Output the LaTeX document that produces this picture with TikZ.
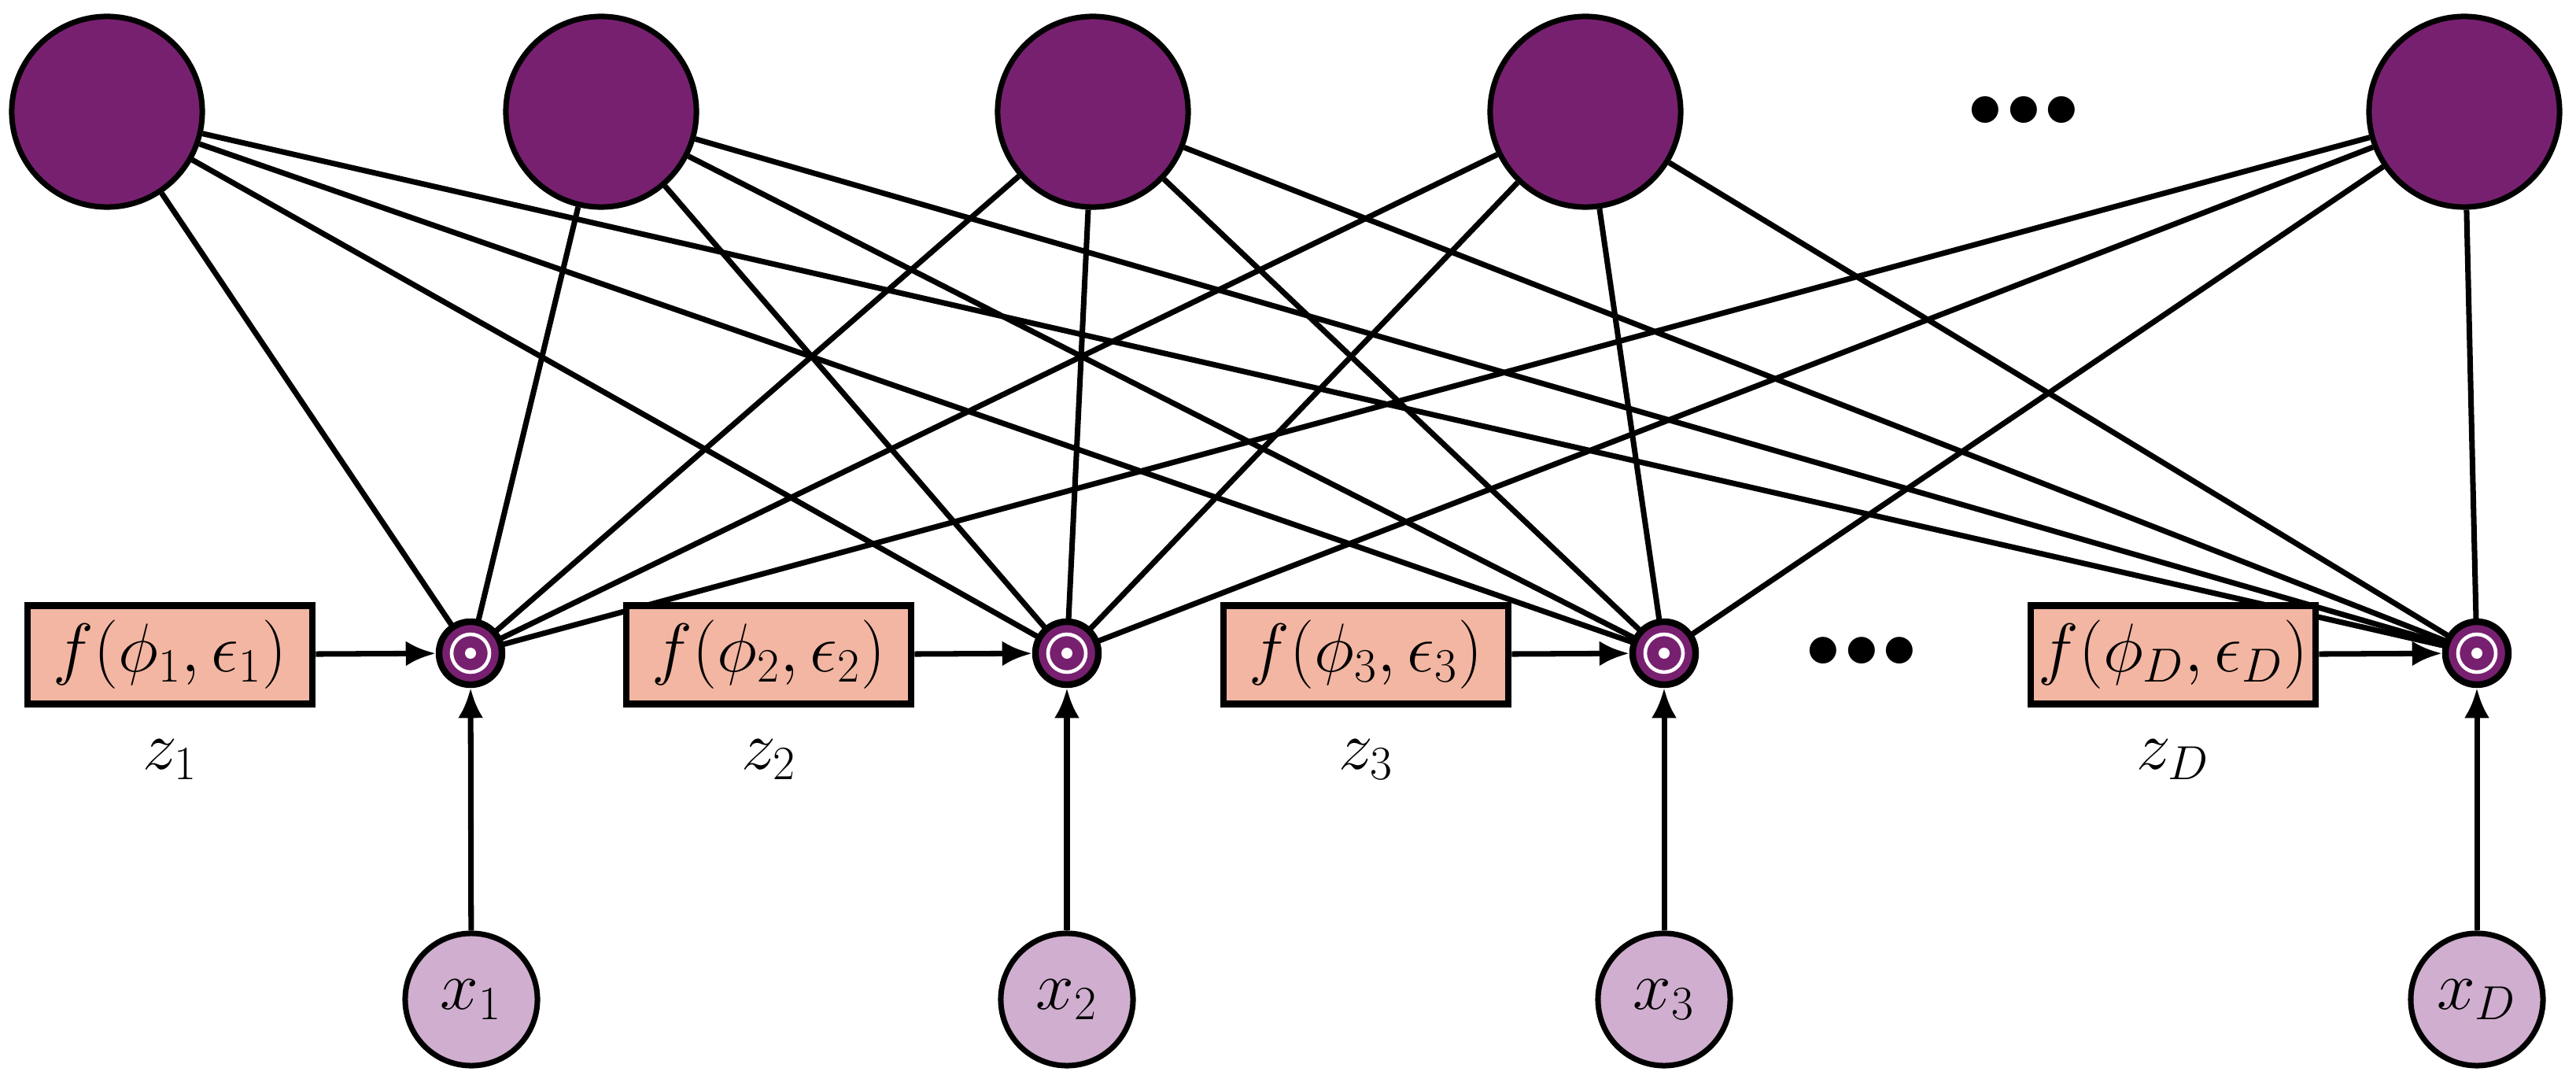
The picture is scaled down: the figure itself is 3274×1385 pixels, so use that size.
\documentclass[tikz,border=0pt]{standalone}
\usetikzlibrary{arrows.meta}
\definecolor{hid}{HTML}{782070}
\definecolor{inp}{HTML}{D0AECF}
\definecolor{fbox}{HTML}{F2B6A2}
\begin{document}
\begin{tikzpicture}[x=0.01cm,y=-0.01cm,line width=2pt,
  font=\fontsize{25}{29}\selectfont,
  top/.style={circle,draw,fill=hid,minimum size=2.42cm},
  mix/.style={circle,draw,fill=hid,minimum size=0.8cm,inner sep=0,line width=2.4pt},
  xin/.style={circle,draw,fill=inp,minimum size=1.68cm,inner sep=0},
  fb/.style={draw,fill=fbox,minimum width=3.62cm,minimum height=1.25cm,inner sep=2pt,line width=2.4pt},
  arr/.style={-{Latex[length=0.38cm,width=0.32cm]}}]
\useasboundingbox (0,0) rectangle (3274,1385);
\foreach \n/\x in {1/136,2/764,3/1389,4/2015,5/3132}
  \node[top] (h\n) at (\x,142) {};
\node at (2572,142) {$\bullet\!\bullet\!\bullet$};
\foreach \n/\x in {1/598,2/1356,3/2115,4/3148}
  \coordinate (c\n) at (\x,830);
\foreach \h in {1,...,5}
  \foreach \m in {1,...,4}
    \draw (h\h) -- (c\m);
\foreach \n/\x in {1/598,2/1356,3/2115,4/3148}{
  \node[mix] (m\n) at (c\n) {};
  \draw[white,line width=1.3pt] (m\n) circle (0.24cm);
  \fill[white] (m\n) circle (0.07cm);
}
\foreach \n/\x/\s in {1/216/1,2/977/2,3/1736/3,4/2762/D}{
  \node[fb] (f\n) at (\x,832) {$f(\phi_{\s},\epsilon_{\s})$};
  \node (z\n) at (\x,965) {$z_{\s}$};
  \draw[arr] (f\n) -- (m\n);
}
\foreach \n/\x/\s in {1/599/1,2/1356/2,3/2115/3,4/3148/D}{
  \node[xin] (x\n) at (\x,1270) {$x_{\s}$};
  \draw[arr] (x\n) -- (m\n);
}
\node at (2366,829) {$\bullet\!\bullet\!\bullet$};
\end{tikzpicture}
\end{document}
